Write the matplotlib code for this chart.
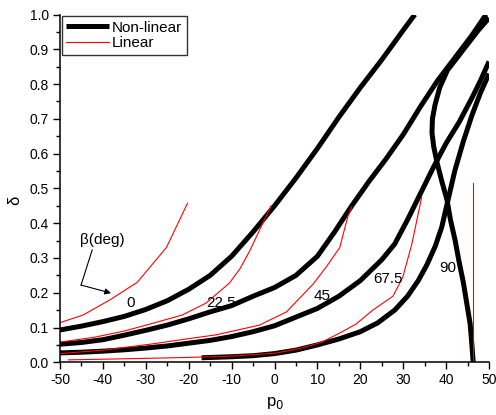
import numpy as np
import matplotlib
matplotlib.use("Agg")
import matplotlib.pyplot as plt
from matplotlib.ticker import MultipleLocator

plt.rcParams['font.family'] = ['Liberation Sans', 'DejaVu Sans']
plt.rcParams['axes.unicode_minus'] = False

# non-linear results (p0, delta)
nl_0_p = [-50, -45, -40, -35, -30, -25, -20, -15, -10, -5, 0, 5, 10, 15, 20, 25, 30, 32.7]
nl_0_d = [0.093, 0.104, 0.117, 0.132, 0.152, 0.177, 0.21, 0.25, 0.305, 0.375, 0.45,
          0.53, 0.615, 0.705, 0.79, 0.87, 0.955, 1.0]

nl_22_p = [-50, -45, -40, -35, -30, -25, -20, -15, -10, -5, 0, 5, 10, 14, 18, 22, 26,
           30, 34, 38, 42, 46, 49.3]
nl_22_d = [0.052, 0.057, 0.065, 0.078, 0.092, 0.107, 0.125, 0.145, 0.163, 0.19, 0.215,
           0.25, 0.305, 0.375, 0.45, 0.52, 0.585, 0.655, 0.735, 0.81, 0.875, 0.94, 1.0]

nl_45_p = [-50, -45, -40, -35, -30, -25, -20, -15, -10, -5, 0, 5, 10, 15, 20, 25, 28,
           31, 34, 37, 40, 43, 46, 48, 50]
nl_45_d = [0.027, 0.029, 0.032, 0.036, 0.041, 0.047, 0.055, 0.063, 0.074, 0.088, 0.105,
           0.13, 0.155, 0.19, 0.235, 0.295, 0.34, 0.41, 0.485, 0.56, 0.63, 0.69, 0.76,
           0.81, 0.865]

nl_67_p = [-17, -10, -5, 0, 5, 10, 15, 20, 24, 28, 31, 33.5, 35.5, 37.5, 39, 40.5, 42,
           44, 46, 48, 50]
nl_67_d = [0.013, 0.016, 0.019, 0.025, 0.035, 0.05, 0.067, 0.088, 0.113, 0.15, 0.19,
           0.235, 0.28, 0.335, 0.39, 0.47, 0.55, 0.635, 0.71, 0.775, 0.83]

nl_90_p = [46.3, 46.0, 45.6, 44.8, 44.0, 43.0, 42.1, 41.0, 40.2, 39.0, 37.9, 37.1, 36.7,
           36.8, 37.4, 38.5, 40.3, 42.5, 45.0, 47.5, 50.0]
nl_90_d = [0.0, 0.05, 0.11, 0.17, 0.23, 0.29, 0.35, 0.41, 0.467, 0.52, 0.573, 0.62, 0.66,
           0.70, 0.74, 0.79, 0.84, 0.875, 0.915, 0.955, 0.99]

# linear results
li_0_p = [-50, -44.6, -38.3, -32, -25.2, -20.3]
li_0_d = [0.114, 0.136, 0.18, 0.23, 0.33, 0.457]

li_22_p = [-50, -42, -35, -29, -21.5, -16, -10.5, -8, -5.8, -3.5, -0.8]
li_22_d = [0.058, 0.072, 0.09, 0.11, 0.136, 0.17, 0.228, 0.27, 0.32, 0.38, 0.45]

li_45_p = [-50, -40, -29, -20, -13.6, -3.5, 2.8, 5.5, 9, 12.1, 15.2, 17.1, 18]
li_45_d = [0.025, 0.035, 0.052, 0.068, 0.079, 0.107, 0.145, 0.18, 0.225, 0.275, 0.33,
           0.42, 0.447]

li_67_p = [-48, -35, -20, -10, 0, 6, 11, 15.2, 19, 22.9, 27.6, 29.9, 32, 34.3]
li_67_d = [0.007, 0.01, 0.014, 0.018, 0.026, 0.04, 0.058, 0.084, 0.11, 0.15, 0.19,
           0.245, 0.34, 0.475]

li_90_p = [46.3, 46.3]
li_90_d = [0.0, 0.515]

beta_labels = ['0', '22.5', '45', '67.5', '90']
label_pos = [(-33.6, 0.17), (-12.4, 0.17), (11.2, 0.19), (26.4, 0.24), (40.4, 0.27)]

fig = plt.figure(figsize=(4.96, 4.15), dpi=100)
ax = fig.add_axes([0.121, 0.127, 0.865, 0.838])

nl = [(nl_0_p, nl_0_d), (nl_22_p, nl_22_d), (nl_45_p, nl_45_d),
      (nl_67_p, nl_67_d), (nl_90_p, nl_90_d)]
li = [(li_0_p, li_0_d), (li_22_p, li_22_d), (li_45_p, li_45_d),
      (li_67_p, li_67_d), (li_90_p, li_90_d)]

for i, (p, d) in enumerate(nl):
    ax.plot(p, d, color='k', lw=3.6, solid_capstyle='butt',
            label='Non-linear' if i == 0 else None)
for i, (p, d) in enumerate(li):
    ax.plot(p, d, color='r', lw=0.8, label='Linear' if i == 0 else None)

for txt, (x, y) in zip(beta_labels, label_pos):
    ax.text(x, y, txt, fontsize=11, ha='center', va='center')

# beta(deg) pointer
ax.text(-40.2, 0.352, r'β(deg)', fontsize=11, ha='center', va='center')
ax.plot([-42.5, -45.1], [0.323, 0.222], color='k', lw=0.8)
ax.annotate('', xy=(-38.1, 0.199), xytext=(-45.1, 0.222),
            arrowprops=dict(arrowstyle='-|>', color='k', lw=0.8,
                            mutation_scale=9, shrinkA=0, shrinkB=0))

ax.set_xlim(-50, 50)
ax.set_ylim(0, 1.0)
ax.xaxis.set_major_locator(MultipleLocator(10))
ax.xaxis.set_minor_locator(MultipleLocator(5))
ax.yaxis.set_major_locator(MultipleLocator(0.1))
ax.yaxis.set_minor_locator(MultipleLocator(0.05))
ax.yaxis.set_major_formatter(plt.FormatStrFormatter('%.1f'))
ax.tick_params(which='major', direction='out', length=5, width=1, labelsize=10, pad=3)
ax.tick_params(which='minor', direction='out', length=3, width=1)
for s in ['top', 'right']:
    ax.spines[s].set_visible(False)
for s in ['left', 'bottom']:
    ax.spines[s].set_linewidth(1.1)

ax.set_xlabel('p$_0$', fontsize=12)
ax.set_ylabel('δ', fontsize=12)
ax.xaxis.set_label_coords(0.5, -0.095)
ax.yaxis.set_label_coords(-0.088, 0.467)

leg = ax.legend(loc='upper left', fontsize=11, frameon=True, fancybox=False,
                edgecolor='k', handlelength=2.8, borderaxespad=0.1,
                borderpad=0.3, labelspacing=0.12, handletextpad=0.2)
leg.get_frame().set_linewidth(1.0)

fig.savefig('out.png', dpi=100)
